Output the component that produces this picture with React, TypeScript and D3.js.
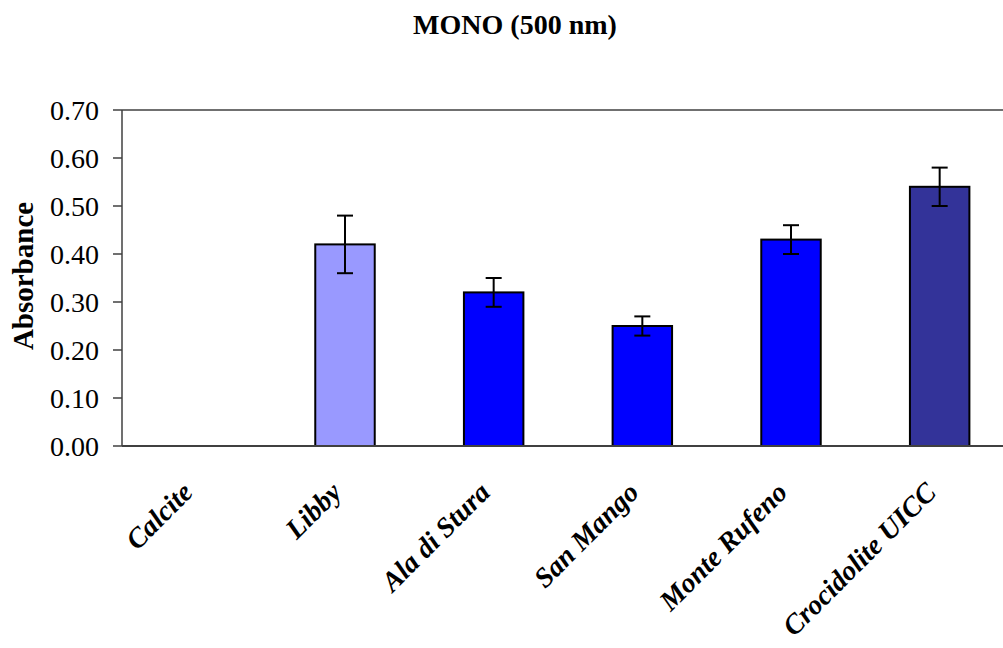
import React from "react";
import * as d3 from "d3";

const categories = ["Calcite", "Libby", "Ala di Stura", "San Mango", "Monte Rufeno", "Crocidolite UICC"];
const values = [0.0, 0.42, 0.32, 0.25, 0.43, 0.54];
const errors = [0.0, 0.06, 0.03, 0.02, 0.03, 0.04];
const colors = ["#9999FF", "#9999FF", "#0000FF", "#0000FF", "#0000FF", "#333399"];
const yTicks = [0, 0.1, 0.2, 0.3, 0.4, 0.5, 0.6, 0.7];
const title = "MONO (500 nm)";
const yTitle = "Absorbance";

const W = 1003;
const H = 648;
const left = 122;
const top = 110;
const bottom = 446;
const right = 1014;

export default function App() {
  const x = d3.scaleBand<string>().domain(categories).range([left, right]).paddingInner(0.6).paddingOuter(0.3);
  const y = d3.scaleLinear().domain([0, 0.7]).range([bottom, top]);
  const bw = x.bandwidth();
  const serif = "'Liberation Serif', 'Times New Roman', serif";
  const axisColor = "#404040";
  return (
    <svg width={W} height={H} style={{ position: "absolute", left: 0, top: 0, background: "#fff" }} fontFamily={serif}>
      <rect x={0} y={0} width={W} height={H} fill="#fff" />
      <text x={515} y={34} textAnchor="middle" fontSize={28} fontWeight="bold">{title}</text>
      <line x1={left} x2={W} y1={top} y2={top} stroke={axisColor} strokeWidth={1.5} />
      <line x1={left} x2={left} y1={top} y2={bottom} stroke={axisColor} strokeWidth={1.5} />
      {yTicks.map((t) => (
        <g key={t}>
          <line x1={left - 9} x2={left} y1={y(t)} y2={y(t)} stroke={axisColor} strokeWidth={1.5} />
          <text x={99} y={y(t)} dy="0.34em" textAnchor="end" fontSize={28}>{t.toFixed(2)}</text>
        </g>
      ))}
      <text transform={`translate(33,276) rotate(-90)`} textAnchor="middle" fontSize={29} fontWeight="bold">{yTitle}</text>
      {categories.map((c, i) => {
        const x0 = x(c)!;
        const cx = x0 + bw / 2;
        const v = values[i];
        const e = errors[i];
        return (
          <g key={c}>
            {v > 0 && (
              <rect x={x0} y={y(v)} width={bw} height={y(0) - y(v)} fill={colors[i]} stroke="#000" strokeWidth={2} />
            )}
            <line x1={cx} x2={cx} y1={y(v + e)} y2={y(v - e)} stroke="#000" strokeWidth={2} />
            <line x1={cx - 8} x2={cx + 8} y1={y(v + e)} y2={y(v + e)} stroke="#000" strokeWidth={2} />
            <line x1={cx - 8} x2={cx + 8} y1={y(v - e)} y2={y(v - e)} stroke="#000" strokeWidth={2} />
          </g>
        );
      })}
      <line x1={left} x2={W} y1={bottom} y2={bottom} stroke={axisColor} strokeWidth={2} />
      {categories.map((c) => {
        const cx = x(c)! + bw / 2;
        return (
          <text key={c} transform={`translate(${cx - 2},494) rotate(-45)`} textAnchor="end" fontSize={28} fontWeight="bold" fontStyle="italic">{c}</text>
        );
      })}
    </svg>
  );
}
